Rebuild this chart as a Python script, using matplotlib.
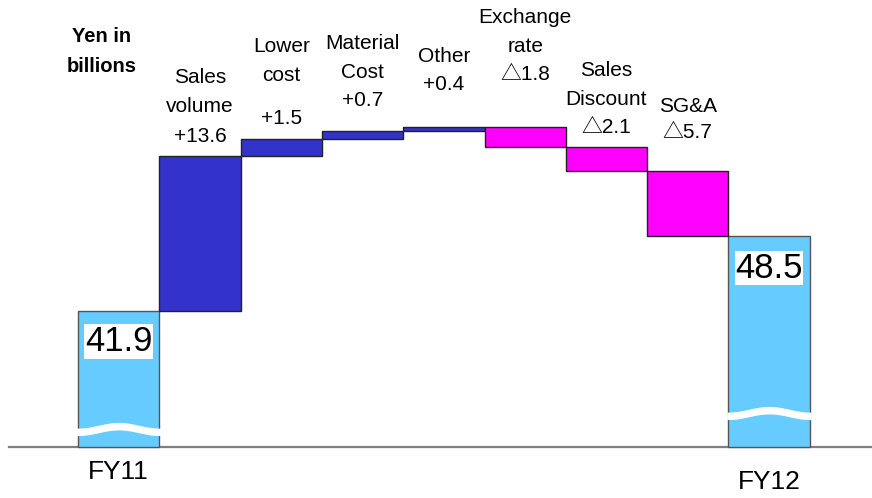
import numpy as np
import matplotlib
matplotlib.use("Agg")
import matplotlib.pyplot as plt

# profit bridge FY11 -> FY12 (yen in billions)
start_label, end_label = "FY11", "FY12"
start_value = 41.9
end_value = 48.5
step_names = ["Sales\nvolume", "Lower\ncost", "Material\nCost", "Other",
              "Exchange\nrate", "Sales\nDiscount", "SG&A"]
step_deltas = [13.6, 1.5, 0.7, 0.4, -1.8, -2.1, -5.7]
axis_floor = 30.0

# text placement (pixels from top of figure): name block centre, value centre
name_y_px = [92, 61, 58, 56, 32, 85, 106]
value_y_px = [136, 118, 100, 85, 75, 127, 133]

W, H = 872, 498
PX_PER_UNIT = 11.4
BASE_PX = 447
BAR_W_PX = 81.3
LEFT_PX = 78

fig = plt.figure(figsize=(W / 100, H / 100), dpi=100)
ax = fig.add_axes([0, 0, 1, 1])
ax.set_xlim(-0.5 - LEFT_PX / BAR_W_PX, -0.5 + (W - LEFT_PX) / BAR_W_PX)
ax.set_ylim(axis_floor - (H - BASE_PX) / PX_PER_UNIT, axis_floor + BASE_PX / PX_PER_UNIT)
ax.axis("off")

txt_font = ["Liberation Sans", "Noto Sans CJK JP"]


def px_to_y(py):
    return 1 - py / H


# endpoints
n = len(step_deltas)
ends = [(0, start_value), (n + 1, end_value)]
for xi, val in ends:
    ax.bar(xi, val - axis_floor, bottom=axis_floor, width=1.0, color="#66CCFF",
           edgecolor="#555555", linewidth=1.0, zorder=2)

# running steps
total = start_value
for i, d in enumerate(step_deltas):
    lo = total if d >= 0 else total + d
    color = "#3333CC" if d >= 0 else "#FF00FF"
    ax.bar(i + 1, abs(d), bottom=lo, width=1.0, color=color,
           edgecolor="#222222", linewidth=1.0, zorder=2)
    total += d
    sign = f"+{d}" if d >= 0 else f"\u25b3{abs(d)}"
    ax.text(i + 1, px_to_y(name_y_px[i]), step_names[i], transform=ax.get_xaxis_transform(),
            ha="center", va="center", fontsize=15, family=txt_font, linespacing=1.65)
    ax.text(i + 1, px_to_y(value_y_px[i]), sign, transform=ax.get_xaxis_transform(),
            ha="center", va="center", fontsize=15, family=txt_font)

# wavy break marks on the endpoint bars
wave_off_px = [18, 34]
for (xi, val), off in zip(ends, wave_off_px):
    xs = np.linspace(xi - 0.52, xi + 0.52, 60)
    yc = axis_floor + off / PX_PER_UNIT - 0.25 * np.cos(2 * np.pi * (xs - xi + 0.5))
    ax.fill_between(xs, yc - 0.33, yc + 0.33, color="white", linewidth=0, zorder=3)

# value boxes
for (xi, val), off in zip(ends, [30, 32]):
    ax.annotate(f"{val}", (xi, val), xytext=(0, -off * 0.72), textcoords="offset points",
                ha="center", va="center", fontsize=25, family=txt_font, zorder=4,
                bbox=dict(boxstyle="square,pad=0.02", fc="white", ec="none"))

# baseline
ax.axhline(axis_floor, xmin=9 / W, xmax=1, color="#808080", linewidth=1.6, zorder=1)

# endpoint labels
ax.text(0, px_to_y(472), start_label, transform=ax.get_xaxis_transform(),
        ha="center", va="center", fontsize=19, family=txt_font)
ax.text(n + 1, px_to_y(482), end_label, transform=ax.get_xaxis_transform(),
        ha="center", va="center", fontsize=19, family=txt_font)

for line, py in zip(["Yen in", "billions"], [37, 66]):
    fig.text(102 / W, px_to_y(py), line, ha="center", va="center",
             fontsize=14.5, fontweight="bold", family=txt_font)

fig.savefig("out.png", dpi=100)
